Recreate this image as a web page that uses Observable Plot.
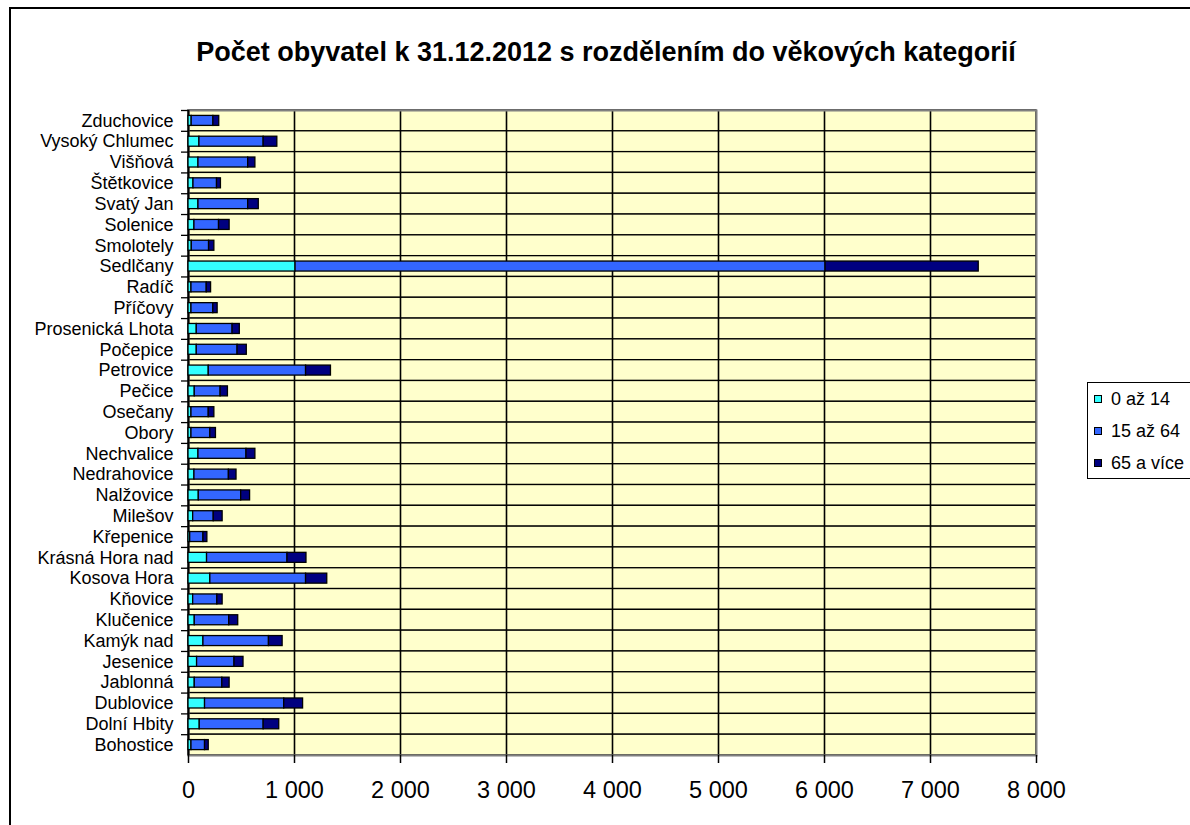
<!DOCTYPE html>
<html>
<head>
<meta charset="utf-8">
<script src="https://cdn.jsdelivr.net/npm/d3@7"></script>
<script src="https://cdn.jsdelivr.net/npm/@observablehq/plot@0.6"></script>
<style>
  html, body { margin: 0; padding: 0; background: #fff; overflow: hidden; }
  #wrap { position: relative; width: 1190px; height: 825px; overflow: hidden; font-family: "Liberation Sans", Arial, sans-serif; }
  #border { position: absolute; left: 9px; top: 7px; width: 1250px; height: 900px; border: 2px solid #000; pointer-events: none; }
  #title { height: 90px; box-sizing: border-box; padding-top: 39px; padding-left: 22px; text-align: center; font-weight: bold; font-size: 27px; line-height: 27px; color: #000; white-space: nowrap; }
  #chart svg { display: block; }
  #legend { position: absolute; left: 1087px; top: 382px; width: 130px; height: 97px; border: 1px solid #000; background: #fff; box-sizing: border-box; padding-top: 0px; }
  .item { display: flex; align-items: center; height: 32px; font-size: 18px; color: #000; }
  .sw { width: 6px; height: 6px; border: 1px solid #000; margin-left: 6px; margin-right: 9px; }
</style>
</head>
<body>
<div id="wrap">
  <div id="title">Počet obyvatel k 31.12.2012 s rozdělením do věkových kategorií</div>
  <div id="chart"></div>
  <div id="legend"></div>
  <div id="border"></div>
</div>
<script>
// Categories, top to bottom as shown
const categories = ["Zduchovice","Vysoký Chlumec","Višňová","Štětkovice","Svatý Jan","Solenice","Smolotely","Sedlčany","Radíč","Příčovy","Prosenická Lhota","Počepice","Petrovice","Pečice","Osečany","Obory","Nechvalice","Nedrahovice","Nalžovice","Milešov","Křepenice","Krásná Hora nad","Kosova Hora","Kňovice","Klučenice","Kamýk nad","Jesenice","Jablonná","Dublovice","Dolní Hbity","Bohostice"];
const groups = ["0 až 14","15 až 64","65 a více"];
const colors = ["#33FFFF","#3366FF","#000080"];
const age0_14 = [30,103,94,47,94,56,31,1010,28,28,78,78,191,59,28,28,94,56,97,44,16,175,206,44,59,141,81,59,156,106,28];
const age15_64 = [205,606,469,222,469,232,163,5000,144,206,338,385,918,244,163,178,453,325,400,194,125,759,903,228,325,618,353,260,747,603,128];
const age65plus = [55,129,68,37,100,100,50,1445,41,41,68,87,235,69,53,53,84,72,84,84,37,179,200,50,85,129,85,69,178,147,35];
const xTicks = [0,1000,2000,3000,4000,5000,6000,7000,8000];

const series = [age0_14, age15_64, age65plus];
const rows = [];
categories.forEach((c, i) => {
  groups.forEach((g, k) => rows.push({obec: c, skupina: g, pocet: series[k][i]}));
});

const fmt = d => d3.format(",")(d).replace(/,/g, " ");
const H = 735, mTop = 20, mBottom = 70;
const bw = (H - mTop - mBottom) / categories.length;

const chart = Plot.plot({
  width: 1190,
  height: H,
  marginLeft: 188,
  marginRight: 154,
  marginTop: mTop,
  marginBottom: mBottom,
  style: {fontFamily: "'Liberation Sans', Arial, sans-serif", background: "transparent", color: "#000"},
  x: {domain: [0, 8000]},
  y: {domain: categories, padding: 0, round: false},
  color: {domain: groups, range: colors},
  marks: [
    Plot.barX(categories, {y: d => d, x1: xTicks[0], x2: xTicks[xTicks.length - 1], fill: "#FFFFCC", stroke: "#000", strokeWidth: 1.3}),
    Plot.ruleX(xTicks.slice(1, -1), {stroke: "#000", strokeWidth: 1.6}),
    Plot.frame({stroke: "#808080", strokeWidth: 2}),
    Plot.ruleX([0], {stroke: "#000", strokeWidth: 2}),
    Plot.barX(rows, Plot.stackX({y: "obec", x: "pocet", fill: "skupina", order: groups, insetTop: 5.4, insetBottom: 5.4, stroke: "#000", strokeWidth: 1.3})),
    Plot.axisX({ticks: xTicks, tickFormat: fmt, tickSize: 8, tickPadding: 18, fontSize: 23.5, label: null, stroke: "#000", strokeWidth: 1.5}),
    Plot.axisY({tickSize: 0, tickPadding: 15, fontSize: 18, label: null}),
    Plot.axisY({tickSize: 7, text: null, dy: -bw / 2, label: null, stroke: "#000", strokeWidth: 1.3})
  ]
});
document.getElementById("chart").appendChild(chart);

const legend = document.getElementById("legend");
groups.forEach((g, k) => {
  const it = document.createElement("div");
  it.className = "item";
  const sw = document.createElement("span");
  sw.className = "sw";
  sw.style.background = colors[k];
  const t = document.createElement("span");
  t.textContent = g;
  it.appendChild(sw); it.appendChild(t);
  legend.appendChild(it);
});
</script>
</body>
</html>
